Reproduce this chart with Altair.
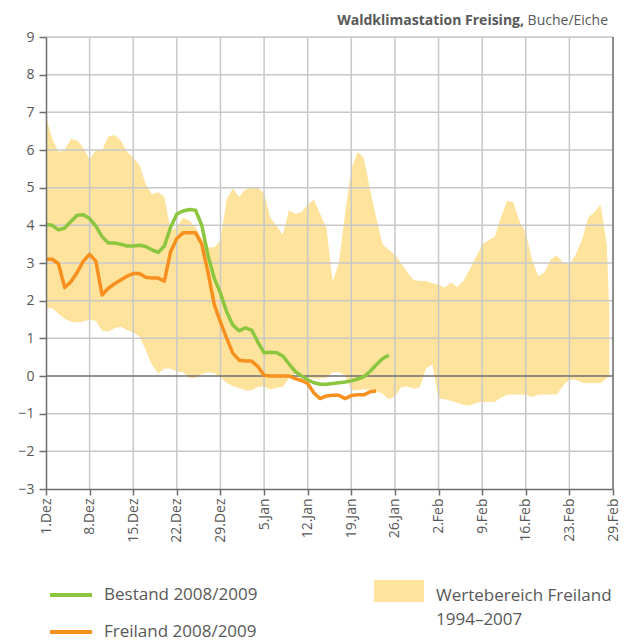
import json
import altair as alt
import pandas as pd

# ---------------- data ----------------
title_bold = "Waldklimastation Freising,"
title_rest = "Buche/Eiche"

x_tick_days = [0, 7, 14, 21, 28, 35, 42, 49, 56, 63, 70, 77, 84, 91]
x_tick_labels = ["1.Dez", "8.Dez", "15.Dez", "22.Dez", "29.Dez", "5.Jan", "12.Jan",
                 "19.Jan", "26.Jan", "2.Feb", "9.Feb", "16.Feb", "23.Feb", "29.Feb"]
y_ticks = [-3, -2, -1, 0, 1, 2, 3, 4, 5, 6, 7, 8, 9]

band_label_lines = ["Wertebereich Freiland", "1994–2007"]
band_label = " ".join(band_label_lines)
band_days = list(range(91)) + [90.4]
band_upper = [
    6.9, 6.3, 5.95, 6.0, 6.3, 6.25, 6.05, 5.75, 6.0, 6.0,
    6.35, 6.4, 6.25, 5.95, 5.8, 5.6, 5.1, 4.82, 4.88, 4.75,
    3.85, 3.96, 4.2, 4.12, 3.95, 3.65, 3.42, 3.42, 3.6, 4.7,
    4.98, 4.75, 4.95, 5.0, 5.0, 4.85, 4.2, 3.98, 3.75, 4.4,
    4.3, 4.35, 4.55, 4.68, 4.3, 3.95, 2.5, 3.0, 4.3, 5.5,
    5.95, 5.8, 4.95, 4.2, 3.5, 3.35, 3.22, 3.0, 2.75, 2.55,
    2.52, 2.52, 2.46, 2.42, 2.35, 2.48, 2.36, 2.52, 2.83, 3.15,
    3.5, 3.6, 3.7, 4.2, 4.65, 4.62, 4.1, 3.8, 3.1, 2.65,
    2.75, 3.1, 3.2, 3.0, 2.97, 3.22, 3.6, 4.2, 4.35, 4.55,
    3.5, 1.7,
]
band_lower = [
    1.8, 1.8, 1.65, 1.52, 1.45, 1.42, 1.45, 1.5, 1.46, 1.2,
    1.18, 1.27, 1.31, 1.22, 1.16, 1.05, 0.7, 0.3, 0.06, 0.2,
    0.2, 0.12, 0.1, -0.05, -0.05, 0.05, 0.1, 0.08, -0.04, -0.18,
    -0.27, -0.32, -0.38, -0.38, -0.29, -0.28, -0.36, -0.31, -0.29, -0.05,
    0.05, 0.02, -0.04, -0.07, -0.06, -0.05, 0.1, 0.1, 0.02, -0.38,
    -0.38, -0.35, -0.36, -0.4, -0.47, -0.62, -0.55, -0.3, -0.28, -0.33,
    -0.3, 0.2, 0.31, -0.6, -0.62, -0.66, -0.71, -0.76, -0.78, -0.72,
    -0.69, -0.69, -0.69, -0.58, -0.5, -0.49, -0.49, -0.49, -0.56, -0.5,
    -0.49, -0.49, -0.49, -0.25, -0.1, -0.09, -0.17, -0.19, -0.19, -0.19,
    -0.05, 0.0,
]

bestand_label = "Bestand 2008/2009"
bestand = [
    4.02, 4.0, 3.88, 3.93, 4.1, 4.27, 4.28, 4.18, 3.98, 3.7,
    3.53, 3.53, 3.5, 3.45, 3.45, 3.47, 3.44, 3.35, 3.28, 3.45,
    3.95, 4.3, 4.38, 4.42, 4.4, 4.0, 3.2, 2.6, 2.2, 1.7,
    1.35, 1.2, 1.28, 1.22, 0.9, 0.62, 0.63, 0.62, 0.53, 0.32,
    0.12, 0.0, -0.1, -0.18, -0.22, -0.22, -0.2, -0.18, -0.16, -0.13,
    -0.08, -0.02, 0.12, 0.3, 0.46, 0.55,
]
freiland_label = "Freiland 2008/2009"
freiland = [
    3.1, 3.1, 2.98, 2.35, 2.5, 2.75, 3.05, 3.23, 3.05, 2.15,
    2.33, 2.45, 2.55, 2.65, 2.72, 2.72, 2.62, 2.6, 2.6, 2.52,
    3.3, 3.65, 3.8, 3.8, 3.8, 3.5, 2.75, 1.9, 1.43, 1.0,
    0.6, 0.42, 0.4, 0.4, 0.25, 0.02, 0.0, 0.0, 0.0, 0.0,
    -0.07, -0.12, -0.2, -0.45, -0.6, -0.53, -0.51, -0.51, -0.6, -0.52,
    -0.5, -0.5, -0.42, -0.4,
]

# ---------------- styling ----------------
green = "#8cc63f"
orange = "#f7901e"
band_color = "#fee39c"
grid_color = "#c8c8c8"
axis_color = "#6e6e6e"
text_color = "#585858"
font = "Open Sans"

band_df = pd.DataFrame({"day": band_days, "upper": band_upper,
                        "lower": band_lower, "series": band_label})
lines_df = pd.concat([
    pd.DataFrame({"day": list(range(len(bestand))), "value": bestand, "series": bestand_label}),
    pd.DataFrame({"day": list(range(len(freiland))), "value": freiland, "series": freiland_label}),
])

label_expr = json.dumps(x_tick_labels) + "[round(datum.value / 7)]"

x_scale = alt.Scale(domain=[x_tick_days[0], x_tick_days[-1]], nice=False, zero=False)
y_scale = alt.Scale(domain=[y_ticks[0], y_ticks[-1]], nice=False, zero=False)

x_axis = alt.Axis(values=x_tick_days, labelExpr=label_expr, labelAngle=-90, grid=False,
                  title=None, labelFlush=False, labelOverlap=False, tickSize=6,
                  labelPadding=3, domainColor=axis_color, tickColor=axis_color,
                  domainWidth=1.5, tickWidth=1.5, labelFont=font, labelFontSize=14,
                  labelColor=text_color, zindex=1)
y_axis = alt.Axis(values=y_ticks, grid=False, title=None, tickSize=7, labelPadding=5,
                  labelFlush=False, domainColor=axis_color, tickColor=axis_color,
                  domainWidth=1.5, tickWidth=1.5, labelFont=font, labelFontSize=14,
                  labelColor=text_color, zindex=1)

X = lambda f: alt.X(f, scale=x_scale, axis=x_axis)
Y = lambda f: alt.Y(f, scale=y_scale, axis=y_axis)

band = alt.Chart(band_df).mark_area(interpolate="linear", opacity=1).encode(
    x=X("day:Q"),
    y=Y("upper:Q"),
    y2="lower:Q",
    fill=alt.Fill("series:N", scale=alt.Scale(domain=[band_label], range=[band_color]),
                  legend=alt.Legend(title=None, orient="none", legendX=328, legendY=534,
                                    symbolType="M-1,-0.64L1,-0.64L1,0.24L-1,0.24Z",
                                    symbolSize=2500, symbolStrokeWidth=0,
                                    symbolOpacity=1,
                                    labelExpr=json.dumps(band_label_lines[0]),
                                    labelOffset=12,
                                    labelFont=font, labelFontSize=17,
                                    labelColor=text_color, labelLimit=400,
                                    padding=0)),
)

band_label_second = alt.Chart(pd.DataFrame({"t": [band_label_lines[1]]})).mark_text(
    align="left", baseline="middle", font=font, fontSize=17, color=text_color
).encode(text="t:N", x=alt.value(390), y=alt.value(583))

vgrid = alt.Chart(pd.DataFrame({"t": x_tick_days[1:-1]})).mark_rule(
    color=grid_color, strokeWidth=1.5).encode(x=X("t:Q"))
hgrid = alt.Chart(pd.DataFrame({"v": [v for v in y_ticks if v not in (0, y_ticks[0])]})).mark_rule(
    color=grid_color, strokeWidth=1.5).encode(y=Y("v:Q"))
zero = alt.Chart(pd.DataFrame({"v": [0]})).mark_rule(
    color=axis_color, strokeWidth=1.5).encode(y=Y("v:Q"))
right_border = alt.Chart(pd.DataFrame({"t": [x_tick_days[-1]]})).mark_rule(
    color=axis_color, strokeWidth=1.5).encode(x=X("t:Q"))

lines = alt.Chart(lines_df).mark_line(strokeWidth=3.5, strokeJoin="round").encode(
    x=X("day:Q"),
    y=Y("value:Q"),
    color=alt.Color("series:N",
                    scale=alt.Scale(domain=[bestand_label, freiland_label], range=[green, orange]),
                    legend=alt.Legend(title=None, orient="none", legendX=2, legendY=535,
                                      symbolType="stroke", symbolSize=1764,
                                      symbolStrokeWidth=4, labelOffset=10,
                                      labelFont=font, labelFontSize=17,
                                      labelColor=text_color, rowPadding=6,
                                      labelLimit=400, direction="vertical",
                                      padding=0)),
    detail="series:N",
)

title1 = alt.Chart(pd.DataFrame({"t": [title_bold]})).mark_text(
    align="right", baseline="alphabetic", font=font, fontSize=14, fontWeight="bold",
    color=text_color).encode(text="t:N", x=alt.value(478), y=alt.value(-12.5))
title2 = alt.Chart(pd.DataFrame({"t": [title_rest]})).mark_text(
    align="right", baseline="alphabetic", font=font, fontSize=14,
    color=text_color).encode(text="t:N", x=alt.value(562), y=alt.value(-12.5))

chart = alt.layer(band, vgrid, hgrid, zero, right_border, lines, title1, title2,
                  band_label_second).resolve_scale(
    color="independent", fill="independent"
).properties(
    width=567, height=452,
    padding={"left": 38, "top": 29, "right": 12, "bottom": 155},
    autosize=alt.AutoSizeParams(type="none"),
).configure_view(stroke=None).configure(font=font)

chart.save("out.html", embed_options={"renderer": "svg", "actions": False})
